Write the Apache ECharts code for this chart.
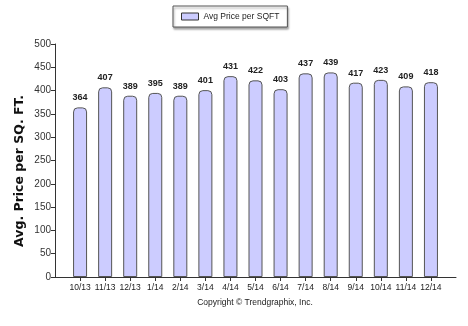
<!DOCTYPE html>
<html>
<head>
<meta charset="utf-8">
<script src="https://cdn.jsdelivr.net/npm/echarts@6/dist/echarts.min.js"></script>
<style>html,body{margin:0;padding:0;background:#fff}#c{width:468px;height:326px}</style>
</head>
<body>
<div id="c"></div>
<script>
const categories = ['10/13','11/13','12/13','1/14','2/14','3/14','4/14','5/14','6/14','7/14','8/14','9/14','10/14','11/14','12/14'];
const avgPrice = [364, 407, 389, 395, 389, 401, 431, 422, 403, 437, 439, 417, 423, 409, 418];
const yTicks = [0, 50, 100, 150, 200, 250, 300, 350, 400, 450, 500];
const seriesName = 'Avg Price per SQFT';
const yAxisTitle = 'Avg. Price per SQ. FT.';
const footer = 'Copyright \u00A9 Trendgraphix, Inc.';

// pad one empty slot on each side (axis spans one extra category each side)
const xCats = [''].concat(categories, ['']);
const barData = [null].concat(avgPrice, [null]);
const inner = (i) => i > 0 && i < xCats.length - 1;

const chart = echarts.init(document.getElementById('c'), null, {renderer: 'canvas'});
chart.setOption({
  animation: false,
  backgroundColor: '#fff',
  textStyle: {fontFamily: 'Liberation Sans'},
  legend: {
    data: [seriesName],
    left: 173, top: 6,
    padding: [6, 8, 6, 8],
    itemWidth: 17, itemHeight: 7, itemGap: 4,
    borderColor: '#555', borderWidth: 1,
    backgroundColor: '#fff',
    shadowColor: 'rgba(0,0,0,0.35)', shadowBlur: 2, shadowOffsetX: 1, shadowOffsetY: 2,
    icon: 'rect',
    itemStyle: {color: '#ccccff', borderColor: '#333', borderWidth: 1},
    textStyle: {fontSize: 8.5, color: '#222', fontFamily: 'Liberation Sans'}
  },
  grid: {left: 55, right: 12, top: 44, bottom: 49, containLabel: false},
  xAxis: {
    type: 'category',
    data: xCats,
    boundaryGap: false,
    axisLine: {lineStyle: {color: '#333', width: 1}},
    axisTick: {show: true, interval: (i) => inner(i), length: 4, lineStyle: {color: '#333'}},
    axisLabel: {interval: (i) => inner(i), fontSize: 8.5, color: '#222', margin: 6, fontFamily: 'Liberation Sans'},
    splitLine: {show: false}
  },
  yAxis: {
    type: 'value',
    min: yTicks[0], max: yTicks[yTicks.length - 1], interval: 50,
    axisLine: {show: true, lineStyle: {color: '#333', width: 1}},
    axisTick: {show: true, length: 4, lineStyle: {color: '#333'}},
    axisLabel: {fontSize: 10, color: '#333', margin: 4, fontFamily: 'Liberation Sans'},
    splitLine: {show: false}
  },
  series: [{
    name: seriesName,
    type: 'bar',
    data: barData,
    barWidth: 14,
    itemStyle: {color: '#ccccff', borderColor: '#555', borderWidth: 1, borderRadius: [4, 4, 0, 0]},
    label: {show: true, position: 'top', distance: 5, fontSize: 9, fontWeight: 'bold', color: '#222', fontFamily: 'Liberation Sans'}
  }],
  graphic: [{
    type: 'text',
    x: 20, y: 171,
    rotation: Math.PI / 2,
    style: {text: yAxisTitle, fontSize: 12.5, fontWeight: 'bold', fill: '#111', fontFamily: 'DejaVu Sans', align: 'center', verticalAlign: 'middle'}
  }, {
    type: 'text',
    x: 255, y: 303,
    style: {text: footer, fontSize: 8.5, fill: '#222', fontFamily: 'Liberation Sans', align: 'center', verticalAlign: 'middle'}
  }]
});
</script>
</body>
</html>
